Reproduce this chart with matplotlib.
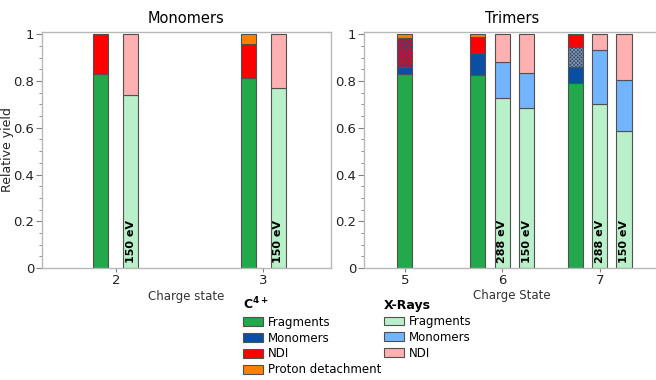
import matplotlib
matplotlib.use("Agg")
import matplotlib.pyplot as plt
from matplotlib.patches import Patch
from matplotlib.ticker import MultipleLocator
import numpy as np

plt.rcParams['font.family'] = ['DejaVu Sans']

# ---------------- data ----------------
mono_charges = [2, 3]
mono_c4_frag = [0.83, 0.812]
mono_c4_ndi = [0.17, 0.145]
mono_c4_proton = [0.0, 0.043]
mono_x_frag = [0.74, 0.77]
mono_x_ndi = [0.26, 0.23]
mono_x_energy = ["150 eV", "150 eV"]

tri_charges = [5, 6, 7]
tri_c4_frag = [0.828, 0.826, 0.793]
tri_c4_mono = [0.031, 0.093, 0.069]
tri_c4_ambig = [0.124, 0.0, 0.082]       # hatched (ambiguous) part
tri_c4_ambig_hatch = ["#ff0000", "#9a8f86"]
tri_c4_ndi = [0.0, 0.068, 0.056]
tri_c4_proton = [0.017, 0.013, 0.0]

tri_x_charges = [6, 6, 7, 7]
tri_x_energy = ["288 eV", "150 eV", "288 eV", "150 eV"]
tri_x_frag = [0.729, 0.685, 0.701, 0.587]
tri_x_mono = [0.151, 0.148, 0.232, 0.216]
tri_x_ndi = [0.120, 0.167, 0.067, 0.197]

# ---------------- style ----------------
C_FRAG = "#23a84b"
C_MONO = "#0a4fa3"
C_NDI = "#ff0000"
C_PROT = "#ff8000"
X_FRAG = "#b9f0c9"
X_MONO = "#72b4ff"
X_NDI = "#ffb0b0"
EDGE = "#505050"
SPINE = "#b8b8b8"

plt.rcParams['hatch.linewidth'] = 0.6

fig = plt.figure(figsize=(6.56, 3.80), dpi=100)
axL = fig.add_axes([41.7/656, 1-268/380, (331-41.7)/656, (268-31.7)/380])
axR = fig.add_axes([364/656, 1-268/380, (660-364)/656, (268-31.7)/380])


def stack(ax, x, w, parts, colors, hatches=None):
    bottom = 0.0
    for i, (v, c) in enumerate(zip(parts, colors)):
        if v <= 0:
            continue
        h = hatches[i] if hatches else None
        if h:
            ax.bar(x, v, w, bottom=bottom, color=c, edgecolor=h, hatch='xxxxxxxxx',
                   linewidth=0, zorder=2)
            ax.bar(x, v, w, bottom=bottom, facecolor='none', edgecolor=EDGE,
                   linewidth=0.8, zorder=3)
        else:
            ax.bar(x, v, w, bottom=bottom, color=c, edgecolor=EDGE,
                   linewidth=0.8, zorder=2)
        bottom += v


def label_bar(ax, x, text):
    ax.text(x, 0.02, text, rotation=90, ha='center', va='bottom',
            fontsize=8, fontweight='bold', zorder=4)


# Monomers panel
wL = 0.102
for i, q in enumerate(mono_charges):
    stack(axL, q - 0.102, wL,
          [mono_c4_frag[i], mono_c4_ndi[i], mono_c4_proton[i]],
          [C_FRAG, C_NDI, C_PROT])
    stack(axL, q + 0.102, wL,
          [mono_x_frag[i], mono_x_ndi[i]],
          [X_FRAG, X_NDI])
    label_bar(axL, q + 0.102, mono_x_energy[i])

# Trimers panel
wR = 0.155
hatch_idx = 0
for i, q in enumerate(tri_charges):
    hlist = [None, None, None, None, None]
    if tri_c4_ambig[i] > 0:
        hlist[2] = tri_c4_ambig_hatch[hatch_idx]
        hatch_idx += 1
    xpos = q if i == 0 else q - 0.25
    stack(axR, xpos, wR,
          [tri_c4_frag[i], tri_c4_mono[i], tri_c4_ambig[i], tri_c4_ndi[i], tri_c4_proton[i]],
          [C_FRAG, C_MONO, C_MONO, C_NDI, C_PROT], hatches=hlist)

offs = {"288 eV": 0.0, "150 eV": 0.25}
for i, q in enumerate(tri_x_charges):
    xpos = q + offs[tri_x_energy[i]]
    stack(axR, xpos, wR,
          [tri_x_frag[i], tri_x_mono[i], tri_x_ndi[i]],
          [X_FRAG, X_MONO, X_NDI])
    label_bar(axR, xpos, tri_x_energy[i])

# Axes formatting
for ax in (axL, axR):
    ax.set_ylim(0, 1.011)
    ax.yaxis.set_minor_locator(MultipleLocator(0.05))
    ax.set_yticks([0, 0.2, 0.4, 0.6, 0.8, 1.0])
    ax.set_yticklabels(["0", "0.2", "0.4", "0.6", "0.8", "1"])
    for s in ax.spines.values():
        s.set_color(SPINE)
        s.set_linewidth(1.0)
    ax.tick_params(axis='both', which='both', color="#808080", labelsize=9.5,
                   labelcolor="#222222", pad=1.5)
    ax.tick_params(axis='y', which='major', length=4)
    ax.tick_params(axis='y', which='minor', length=2.5)
    ax.tick_params(axis='x', which='major', length=3)

axL.set_xlim(1.497, 3.46)
axL.set_xticks(mono_charges)
axL.set_xticklabels([str(c) for c in mono_charges])
axR.set_xlim(4.58, 7.62)
axR.set_xticks(tri_charges)
axR.set_xticklabels([str(c) for c in tri_charges])
axR.spines['right'].set_visible(False)

axL.set_title("Monomers", fontsize=10.5, pad=6)
axR.set_title("Trimers", fontsize=10.5, pad=6)
axL.set_xlabel("Charge state", fontsize=8.5, labelpad=2, color="#333333")
axR.set_xlabel("Charge State", fontsize=8.5, labelpad=1, color="#333333")
axL.set_ylabel("Relative yield", fontsize=9, labelpad=-1, color="#222222")

# Legends
h1 = [Patch(facecolor=c, edgecolor=EDGE, linewidth=0.8) for c in (C_FRAG, C_MONO, C_NDI, C_PROT)]
l1 = ["Fragments", "Monomers", "NDI", "Proton detachment"]
h2 = [Patch(facecolor=c, edgecolor=EDGE, linewidth=0.8) for c in (X_FRAG, X_MONO, X_NDI)]
l2 = ["Fragments", "Monomers", "NDI"]
common = dict(frameon=False, fontsize=8.5, handlelength=1.7, handleheight=0.75,
              handletextpad=0.4, labelspacing=0.25, borderaxespad=0, borderpad=0,
              alignment='left', loc='upper left',
              title_fontproperties={'weight': 'bold', 'size': 9})
leg1 = fig.legend(h1, l1, title=r"$\mathbf{C^{4+}}$", bbox_to_anchor=(243/656, 1-296/380), **common)
leg2 = fig.legend(h2, l2, title="X-Rays", bbox_to_anchor=(384/656, 1-299/380), **common)

fig.savefig("out.png", dpi=100)
